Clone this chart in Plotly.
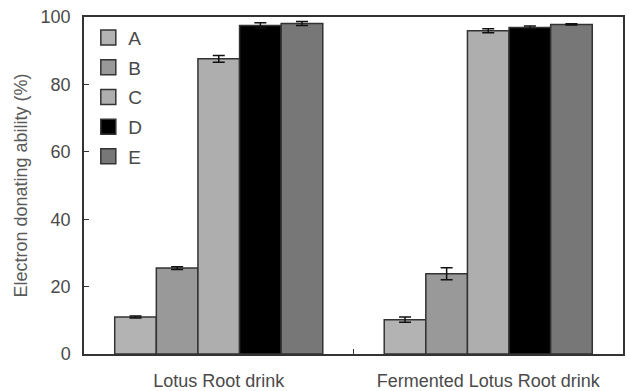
import plotly.graph_objects as go

# Samples and treatments
categories = ["Lotus Root drink", "Fermented Lotus Root drink"]
series_names = ["A", "B", "C", "D", "E"]
values = {
    "A": [11.0, 10.2],
    "B": [25.5, 23.8],
    "C": [87.6, 95.9],
    "D": [97.5, 96.9],
    "E": [98.1, 97.8],
}
errors = {
    "A": [0.3, 0.8],
    "B": [0.4, 1.8],
    "C": [1.0, 0.6],
    "D": [0.8, 0.4],
    "E": [0.6, 0.2],
}
fills = {"A": "#b3b3b3", "B": "#999999", "C": "#aeaeae", "D": "#000000", "E": "#777777"}

FONT = "Liberation Sans, Arial, sans-serif"
TEXT = "#4a4a4a"
LINE = "#333333"

fig = go.Figure()
for name in series_names:
    fig.add_trace(go.Bar(
        x=categories, y=values[name], name=name, showlegend=False,
        marker=dict(color=fills[name], line=dict(color=LINE, width=1.5)),
        error_y=dict(type="data", array=errors[name], color="#111111",
                     thickness=1.5, width=6),
    ))
    # legend swatch
    fig.add_trace(go.Scatter(
        x=[None], y=[None], mode="markers", name=name, legendgroup=name,
        marker=dict(symbol="square", size=15, color=fills[name],
                    line=dict(color=LINE, width=1.5)),
    ))

fig.update_layout(
    width=629, height=391,
    margin=dict(l=84, r=6, t=17, b=37),
    paper_bgcolor="white", plot_bgcolor="white",
    barmode="group", bargap=0.228, bargroupgap=0,
    font=dict(family=FONT, size=18, color=TEXT),
    showlegend=True,
    legend=dict(x=0.008, y=0.995, xanchor="left", yanchor="top",
                font=dict(size=19, color=TEXT), tracegroupgap=2,
                itemwidth=30, bgcolor="rgba(0,0,0,0)"),
    xaxis=dict(showline=True, linecolor=LINE, linewidth=1.5, mirror=True,
               ticks="inside", ticklen=5, tickcolor=LINE, tickson="boundaries",
               automargin=False, ticklabelstandoff=10,
               tickfont=dict(size=18, color=TEXT)),
    yaxis=dict(range=[0, 100], dtick=20, showline=True, linecolor=LINE,
               linewidth=1.5, mirror=True, ticks="inside", ticklen=5,
               tickcolor=LINE, showgrid=False, zeroline=False,
               automargin=False, ticklabelstandoff=8,
               tickfont=dict(size=18, color=TEXT),
               title=dict(text="Electron donating ability (%)", standoff=8,
                          font=dict(size=18, color="#5a5a5a"))),
)

fig.write_html("out.html")
